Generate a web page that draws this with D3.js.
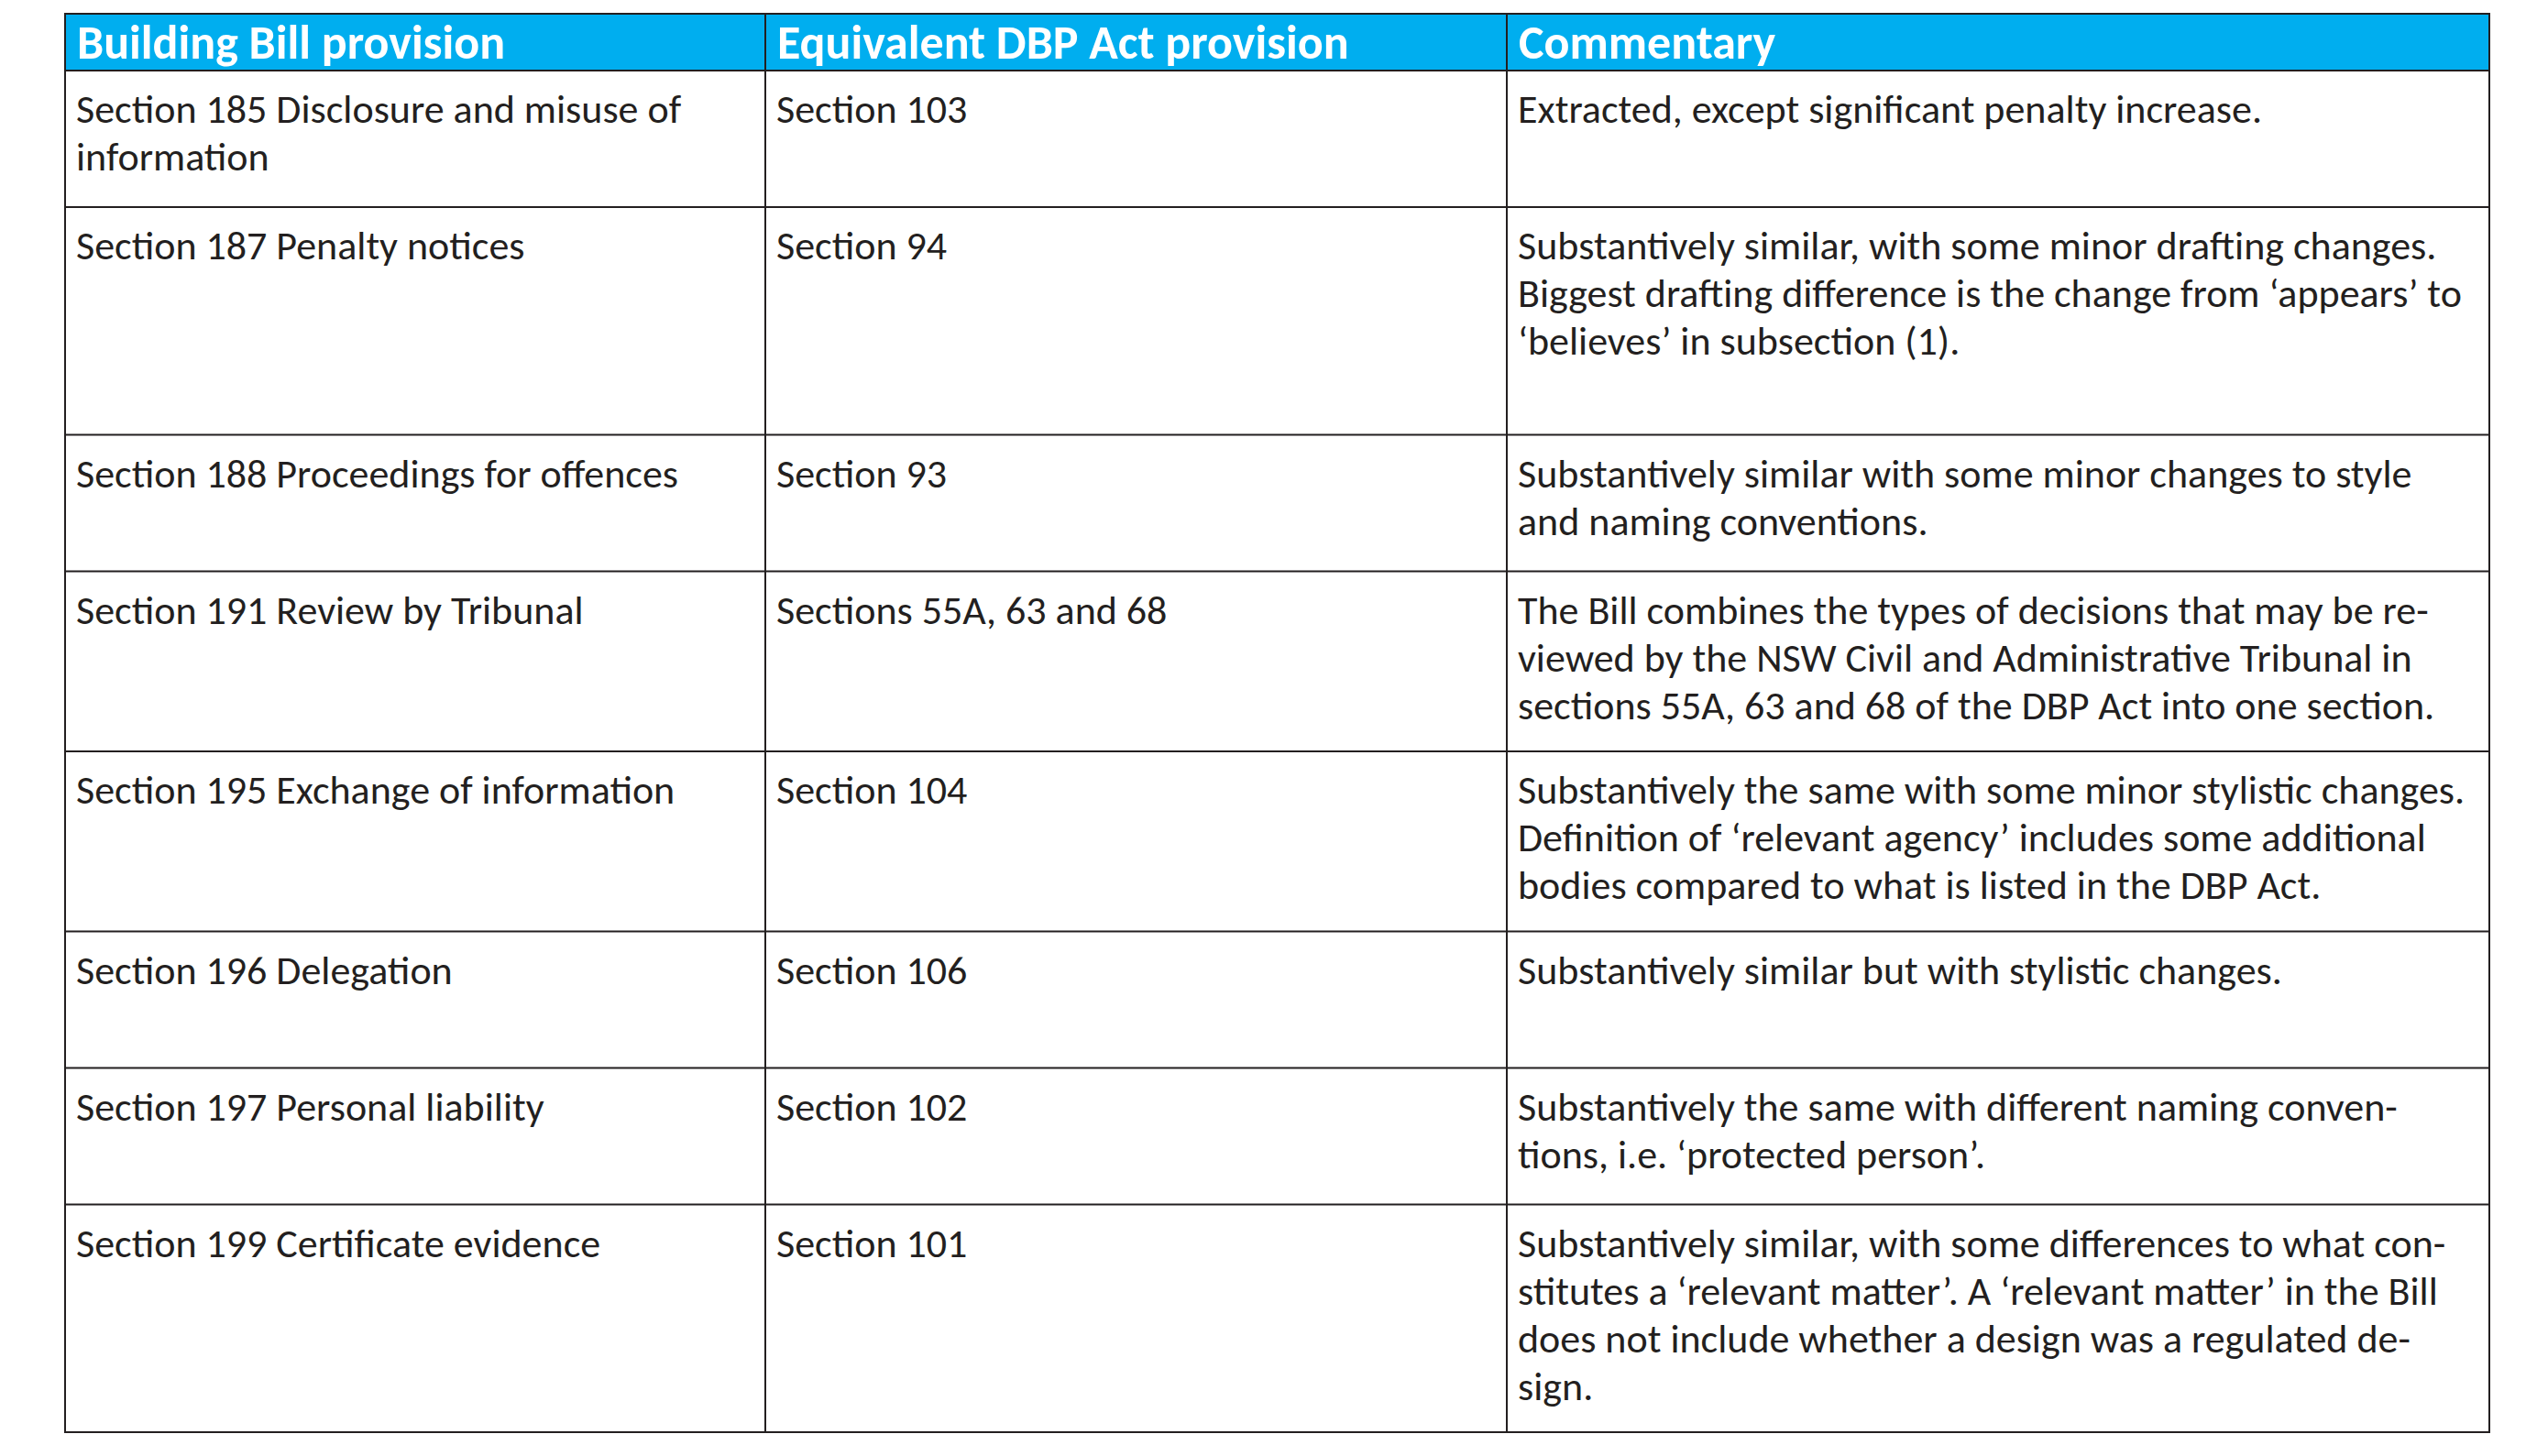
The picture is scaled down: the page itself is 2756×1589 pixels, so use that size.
<!DOCTYPE html>
<html>
<head>
<meta charset="utf-8">
<script src="https://cdn.jsdelivr.net/npm/d3@7"></script>
<style>
  body { margin: 0; background: #fff; }
  text { font-family: Carlito, Calibri, Lato, sans-serif; }
</style>
</head>
<body>
<script>
// table content, line breaks as in the source document
var headers = ["Building Bill provision", "Equivalent DBP Act provision", "Commentary"];

var billProvisions = [
    ["Section 185 Disclosure and misuse of", "information"],
    ["Section 187 Penalty notices"],
    ["Section 188 Proceedings for offences"],
    ["Section 191 Review by Tribunal"],
    ["Section 195 Exchange of information"],
    ["Section 196 Delegation"],
    ["Section 197 Personal liability"],
    ["Section 199 Certificate evidence"]
];

var dbpProvisions = [
    ["Section 103"],
    ["Section 94"],
    ["Section 93"],
    ["Sections 55A, 63 and 68"],
    ["Section 104"],
    ["Section 106"],
    ["Section 102"],
    ["Section 101"]
];

var commentary = [
    ["Extracted, except significant penalty increase."],
    ["Substantively similar, with some minor drafting changes.",
     "Biggest drafting difference is the change from \u2018appears\u2019 to",
     "\u2018believes\u2019 in subsection (1).",
     ""],
    ["Substantively similar with some minor changes to style",
     "and naming conventions."],
    ["The Bill combines the types of decisions that may be re-",
     "viewed by the NSW Civil and Administrative Tribunal in",
     "sections 55A, 63 and 68 of the DBP Act into one section."],
    ["Substantively the same with some minor stylistic changes.",
     "Definition of \u2018relevant agency\u2019 includes some additional",
     "bodies compared to what is listed in the DBP Act."],
    ["Substantively similar but with stylistic changes."],
    ["Substantively the same with different naming conven-",
     "tions, i.e. \u2018protected person\u2019."],
    ["Substantively similar, with some differences to what con-",
     "stitutes a \u2018relevant matter\u2019. A \u2018relevant matter\u2019 in the Bill",
     "does not include whether a design was a regulated de-",
     "sign."]
];

function drawTable() {
    // layout
    var W = 2756, H = 1589;
    var colEdges = [71, 835, 1644, 2716];
    var tableTop = 15, headH = 62;
    var lineH = 52, firstBase = 57, bottomPad = 35.5, minRowH = 149;
    var padX = 12;
    var lineColor = "#231f20", headFill = "#00aeef";

    var rows = billProvisions.map(function(d, i) {
        return { cells: [d, dbpProvisions[i], commentary[i]] };
    });

    var yPos = tableTop + headH;
    rows.forEach(function(r) {
        var n = d3.max(r.cells, function(c) { return c.length; });
        r.y0 = yPos;
        r.h = Math.max(minRowH, firstBase + (n - 1) * lineH + bottomPad);
        yPos += r.h;
    });
    var tableBottom = yPos;

    var svg = d3.select("body").append("svg")
        .attr("width", W)
        .attr("height", H);

    // header band
    svg.append("rect")
        .attr("x", colEdges[0])
        .attr("y", tableTop)
        .attr("width", colEdges[3] - colEdges[0])
        .attr("height", headH)
        .style("fill", headFill);

    svg.selectAll("text.head")
        .data(headers)
        .enter()
        .append("text")
        .attr("class", "head")
        .attr("x", function(d, i) { return colEdges[i] + padX + 1; })
        .attr("y", tableTop + 49)
        .style("font-size", "52px")
        .style("font-weight", "bold")
        .style("fill", "#fff")
        .text(function(d) { return d; });

    // body cells
    var rowG = svg.selectAll("g.row")
        .data(rows)
        .enter()
        .append("g")
        .attr("class", "row")
        .attr("transform", function(d) { return "translate(0," + d.y0 + ")"; });

    rowG.selectAll("text")
        .data(function(d) {
            var out = [];
            d.cells.forEach(function(c, ci) {
                c.forEach(function(line, li) {
                    out.push({ col: ci, line: li, text: line });
                });
            });
            return out;
        })
        .enter()
        .append("text")
        .attr("x", function(d) { return colEdges[d.col] + padX; })
        .attr("y", function(d) { return firstBase + d.line * lineH; })
        .style("font-size", "44px")
        .style("fill", "#231f20")
        .text(function(d) { return d.text; });

    // grid lines
    var hLines = [tableTop, tableTop + headH].concat(rows.map(function(r) { return r.y0 + r.h; }));

    svg.selectAll("line.h")
        .data(hLines)
        .enter()
        .append("line")
        .attr("class", "h")
        .attr("x1", colEdges[0] - 1)
        .attr("x2", colEdges[3] + 1)
        .attr("y1", function(d) { return d; })
        .attr("y2", function(d) { return d; })
        .style("stroke", lineColor)
        .style("stroke-width", 2);

    svg.selectAll("line.v")
        .data(colEdges)
        .enter()
        .append("line")
        .attr("class", "v")
        .attr("x1", function(d) { return d; })
        .attr("x2", function(d) { return d; })
        .attr("y1", tableTop)
        .attr("y2", tableBottom)
        .style("stroke", lineColor)
        .style("stroke-width", 2);
}

drawTable();
</script>
</body>
</html>
